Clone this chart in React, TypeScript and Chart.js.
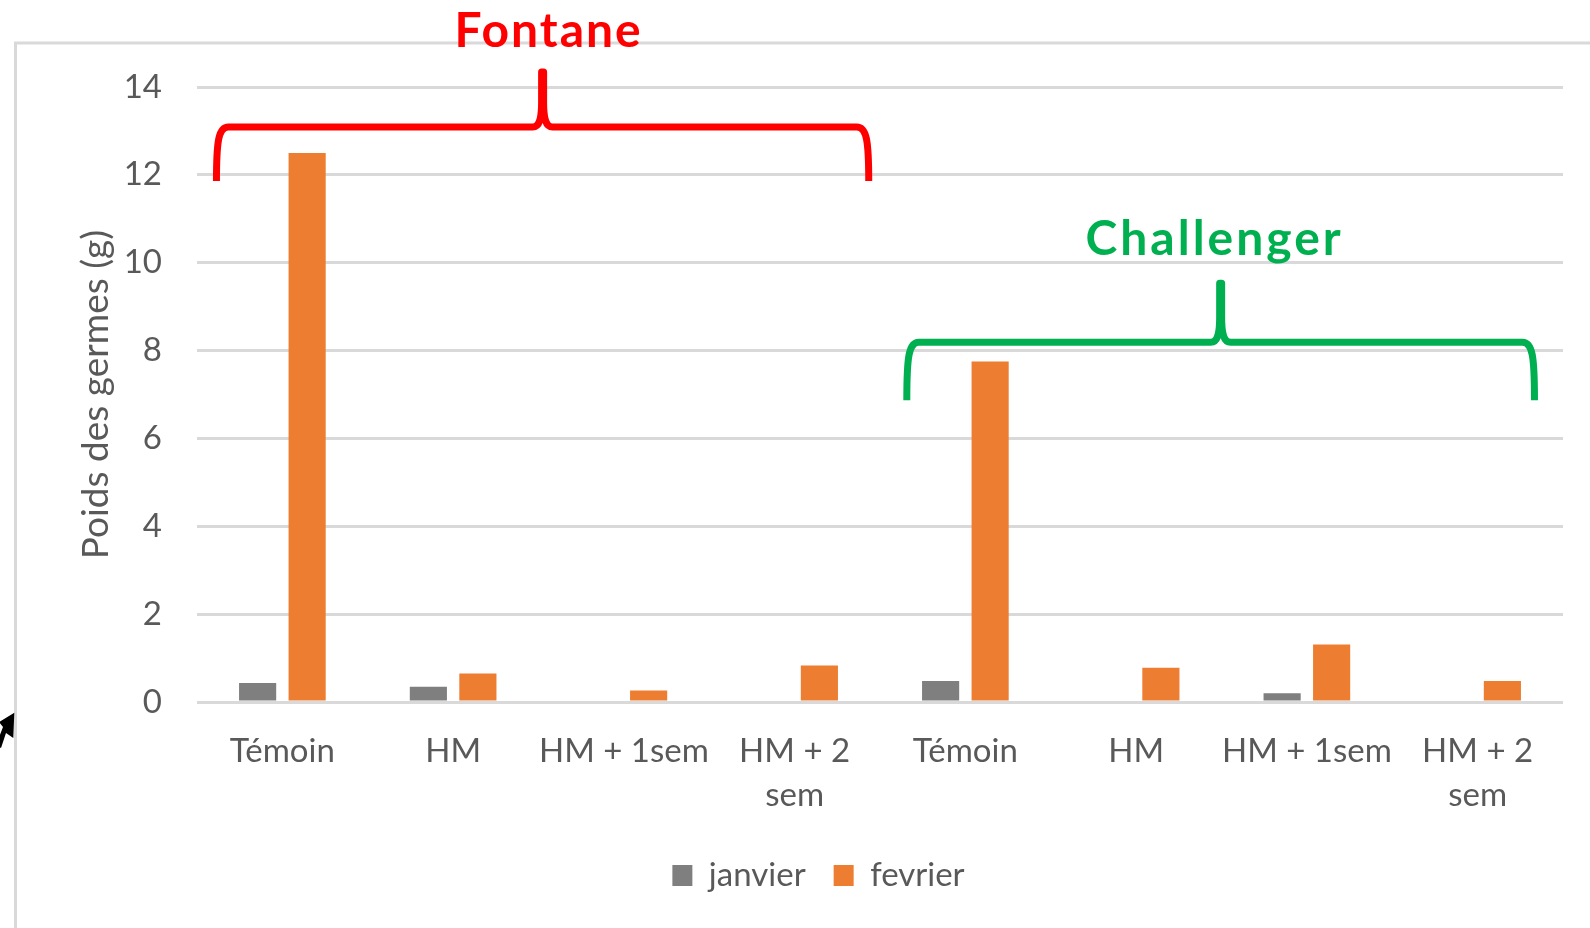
import React, { useEffect, useRef } from "react";
import { Chart, registerables } from "chart.js";

Chart.register(...registerables);

const categories: (string | string[])[] = [
  "Témoin",
  "HM",
  "HM + 1sem",
  ["HM + 2", "sem"],
  "Témoin",
  "HM",
  "HM + 1sem",
  ["HM + 2", "sem"],
];
const janvier = [0.43, 0.35, 0, 0, 0.48, 0, 0.2, 0];
const fevrier = [12.5, 0.65, 0.26, 0.83, 7.75, 0.78, 1.31, 0.48];
const seriesNames = ["janvier", "fevrier"];
const yTicks = [0, 2, 4, 6, 8, 10, 12, 14];
const yTitle = "Poids des germes (g)";
const groupNames = ["Fontane", "Challenger"];

const FONT = "Lato, 'Open Sans', sans-serif";
const TEXT = "#595959";
const GRID = "#d9d9d9";

function drawBrace(
  ctx: CanvasRenderingContext2D,
  x1: number,
  x2: number,
  yh: number,
  yEnd: number,
  yTip: number,
  color: string
) {
  const xm = (x1 + x2) / 2;
  ctx.save();
  ctx.strokeStyle = color;
  ctx.lineWidth = 7;
  ctx.lineJoin = "round";
  ctx.lineCap = "butt";
  ctx.beginPath();
  ctx.moveTo(x1, yEnd);
  ctx.bezierCurveTo(x1, yh + 14, x1 + 2, yh, x1 + 12, yh);
  ctx.lineTo(xm - 10, yh);
  ctx.bezierCurveTo(xm - 3, yh, xm - 1, yh - 8, xm - 1, yh - 25);
  ctx.lineTo(xm - 1, yTip);
  ctx.lineTo(xm + 1, yTip);
  ctx.lineTo(xm + 1, yh - 25);
  ctx.bezierCurveTo(xm + 1, yh - 8, xm + 3, yh, xm + 10, yh);
  ctx.lineTo(x2 - 12, yh);
  ctx.bezierCurveTo(x2 - 2, yh, x2, yh + 14, x2, yEnd);
  ctx.stroke();
  ctx.restore();
}

const decorPlugin = {
  id: "decor",
  beforeDraw(chart: any) {
    const ctx = chart.ctx as CanvasRenderingContext2D;
    ctx.save();
    ctx.strokeStyle = GRID;
    ctx.lineWidth = 3;
    ctx.beginPath();
    ctx.moveTo(15.5, chart.height + 5);
    ctx.lineTo(15.5, 43);
    ctx.lineTo(chart.width + 5, 43);
    ctx.stroke();
    ctx.restore();
  },
  afterDraw(chart: any) {
    const ctx = chart.ctx as CanvasRenderingContext2D;
    const xs = chart.scales.x;
    const ys = chart.scales.y;
    const catW = (xs.right - xs.left) / categories.length;
    const yp = (v: number) => ys.getPixelForValue(v);

    // Fontane brace (categories 0-3)
    const fx1 = xs.left + 0.114 * catW;
    const fx2 = xs.left + 4 * catW - 0.066 * catW;
    drawBrace(ctx, fx1, fx2, yp(13.09), yp(11.86), yp(14.34), "#ff0000");
    // Challenger brace (categories 4-7)
    const cx1 = xs.left + 4 * catW + 0.157 * catW;
    const cx2 = xs.left + 8 * catW - 0.167 * catW;
    drawBrace(ctx, cx1, cx2, yp(8.19), yp(6.87), yp(9.53), "#00b050");

    ctx.save();
    ctx.font = `bold 48px ${FONT}`;
    (ctx as any).letterSpacing = "2px";
    ctx.textAlign = "center";
    ctx.textBaseline = "alphabetic";
    ctx.fillStyle = "#ff0000";
    ctx.fillText(groupNames[0], (fx1 + fx2) / 2 + 6, 47);
    (ctx as any).letterSpacing = "3px";
    ctx.fillStyle = "#00b050";
    ctx.fillText(groupNames[1], (cx1 + cx2) / 2 - 6, 255);
    ctx.restore();

    // small black cursor arrow at the left edge
    ctx.save();
    ctx.fillStyle = "#000000";
    ctx.beginPath();
    ctx.moveTo(14.3, 712.7);
    ctx.lineTo(-1, 722);
    ctx.lineTo(3, 727);
    ctx.lineTo(-4, 745);
    ctx.lineTo(1, 748);
    ctx.lineTo(6, 733);
    ctx.lineTo(13.3, 738);
    ctx.closePath();
    ctx.fill();
    ctx.restore();
  },
};

export default function App() {
  const canvasRef = useRef<HTMLCanvasElement | null>(null);

  useEffect(() => {
    if (!canvasRef.current) return;
    const chart = new Chart(canvasRef.current, {
      type: "bar",
      data: {
        labels: categories as any,
        datasets: [
          {
            label: seriesNames[0],
            data: janvier,
            backgroundColor: "#7f7f7f",
            categoryPercentage: 0.58,
            barPercentage: 0.75,
          },
          {
            label: seriesNames[1],
            data: fevrier,
            backgroundColor: "#ed7d31",
            categoryPercentage: 0.58,
            barPercentage: 0.75,
          },
        ],
      },
      options: {
        animation: false,
        responsive: true,
        maintainAspectRatio: false,
        layout: { padding: { left: 74, top: 87, right: 27, bottom: 26 } },
        plugins: {
          legend: {
            position: "bottom",
            labels: {
              boxWidth: 20,
              boxHeight: 21,
              padding: 28,
              color: TEXT,
              font: { family: FONT, size: 33 },
            },
          },
          tooltip: { enabled: false },
        },
        scales: {
          x: {
            grid: { display: false, drawTicks: false },
            border: { display: false },
            ticks: {
              color: TEXT,
              font: { family: FONT, size: 33, lineHeight: 1.32 },
              padding: 28,
              maxRotation: 0,
              minRotation: 0,
              autoSkip: false,
            },
            afterFit: (scale: any) => {
              scale.height = 129;
            },
          },
          y: {
            min: 0,
            max: 14,
            afterBuildTicks: (scale: any) => {
              scale.ticks = yTicks.map((v) => ({ value: v }));
            },
            grid: { color: GRID, lineWidth: 3, drawTicks: false },
            border: { display: false },
            ticks: {
              color: TEXT,
              font: { family: FONT, size: 33 },
              padding: 35,
            },
            title: {
              display: true,
              text: yTitle,
              color: TEXT,
              font: { family: FONT, size: 37 },
              padding: { top: 0, bottom: 0 },
            },
            afterFit: (scale: any) => {
              scale.width = 123;
            },
          },
        },
      },
      plugins: [decorPlugin],
    });
    return () => chart.destroy();
  }, []);

  return (
    <div
      style={{
        position: "fixed",
        left: 0,
        top: 0,
        width: 1590,
        height: 928,
        background: "#ffffff",
      }}
    >
      <canvas ref={canvasRef} />
    </div>
  );
}
